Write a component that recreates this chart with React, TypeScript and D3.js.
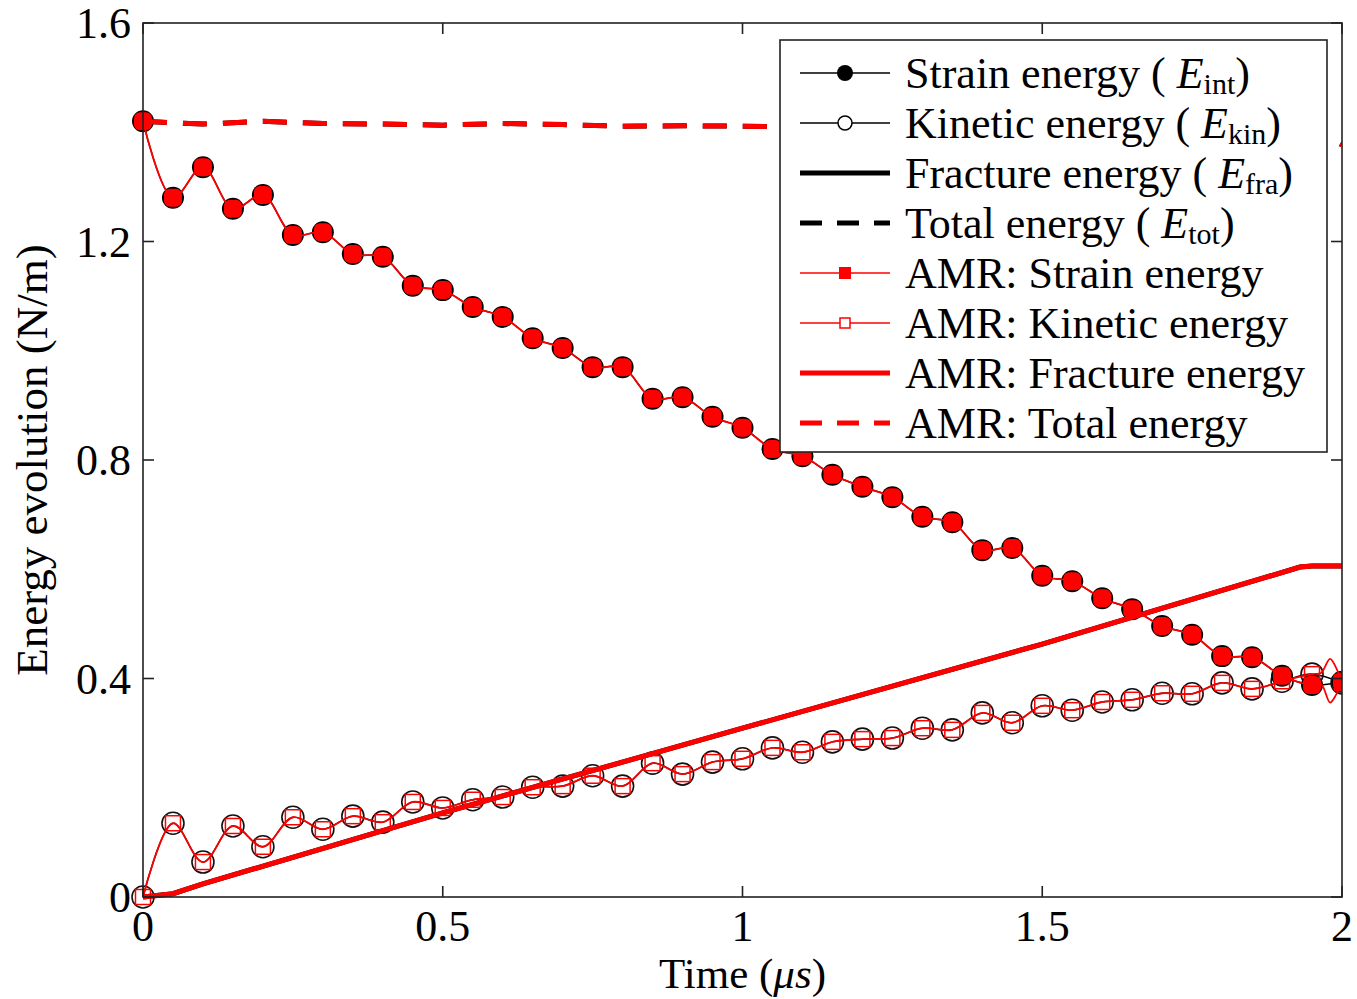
import React from 'react';
import * as d3 from 'd3';

// marker times (µs)
const time = [0, 0.05, 0.1, 0.15, 0.2, 0.25, 0.3, 0.35, 0.4, 0.45, 0.5, 0.55, 0.6, 0.65, 0.7, 0.75, 0.8, 0.85, 0.9, 0.95,
  1.0, 1.05, 1.1, 1.15, 1.2, 1.25, 1.3, 1.35, 1.4, 1.45, 1.5, 1.55, 1.6, 1.65, 1.7, 1.75, 1.8, 1.85, 1.9, 1.95, 2.0];

const strain = [1.42, 1.28, 1.336, 1.26, 1.285, 1.212, 1.217, 1.177, 1.172, 1.119, 1.111, 1.08, 1.062, 1.023, 1.005, 0.97, 0.97,
  0.912, 0.915, 0.879, 0.859, 0.82, 0.807, 0.773, 0.751, 0.732, 0.696, 0.686, 0.635, 0.639, 0.588, 0.578, 0.547, 0.527,
  0.496, 0.48, 0.441, 0.439, 0.405, 0.388, 0.394];

const kinetic = [0, 0.135, 0.064, 0.13, 0.092, 0.146, 0.124, 0.148, 0.137, 0.174, 0.163, 0.178, 0.183, 0.201, 0.203, 0.222,
  0.203, 0.245, 0.225, 0.247, 0.253, 0.273, 0.265, 0.284, 0.289, 0.291, 0.309, 0.306, 0.337, 0.319, 0.35, 0.342, 0.357,
  0.361, 0.373, 0.372, 0.392, 0.381, 0.395, 0.408, 0.392];

// the AMR curves wobble in the last step
const tailTime = [1.965, 1.98, 1.99];
const strainTail = [0.39, 0.356, 0.37];
const kineticTail = [0.41, 0.436, 0.42];

const fracTime = [0, 0.05, 0.1, 0.5, 1.0, 1.5, 1.93, 1.95, 2.0];
const fracture = [0, 0.006, 0.024, 0.154, 0.309, 0.463, 0.604, 0.606, 0.606];

const totalTime = [0, 0.1, 0.2, 0.3, 0.4, 0.5, 0.6, 0.7, 0.8, 0.9, 1.0, 1.1, 1.2, 1.4, 1.6, 1.8, 1.9, 1.95, 1.975, 2.0];
const total = [1.42, 1.415, 1.42, 1.416, 1.415, 1.413, 1.416, 1.414, 1.411, 1.412, 1.411, 1.41, 1.41, 1.408, 1.406, 1.404,
  1.402, 1.4, 1.393, 1.377];

const xTicks = [0, 0.5, 1, 1.5, 2];
const yTicks = [0, 0.4, 0.8, 1.2, 1.6];

const W = 1357;
const H = 999;
const m = { left: 143, right: 15, top: 23, bottom: 102 };
const font = '"Liberation Serif", "DejaVu Serif", serif';

type Pt = [number, number];
const zip = (xs: number[], ys: number[]): Pt[] => xs.map((x, i) => [x, ys[i]]);

const App = () => {
  const x = d3.scaleLinear().domain([0, 2]).range([m.left, W - m.right]);
  const y = d3.scaleLinear().domain([0, 1.6]).range([H - m.bottom, m.top]);

  const smooth = d3.line<Pt>().x(d => x(d[0])).y(d => y(d[1])).curve(d3.curveCatmullRom.alpha(0.5));
  const straight = d3.line<Pt>().x(d => x(d[0])).y(d => y(d[1]));

  const strainPts = zip(time, strain);
  const kineticPts = zip(time, kinetic);
  const strainAmr = [...strainPts.slice(0, -1), ...zip(tailTime, strainTail), strainPts[strainPts.length - 1]];
  const kineticAmr = [...kineticPts.slice(0, -1), ...zip(tailTime, kineticTail), kineticPts[kineticPts.length - 1]];
  const fracPts = zip(fracTime, fracture);
  const totalPts = zip(totalTime, total);

  const x0 = m.left, x1 = W - m.right, y0 = H - m.bottom, y1 = m.top;
  const dash = '24,16';

  const legend = [
    { label: 'Strain energy', sub: 'int', kind: 'fillCircle' },
    { label: 'Kinetic energy', sub: 'kin', kind: 'openCircle' },
    { label: 'Fracture energy', sub: 'fra', kind: 'thick' },
    { label: 'Total energy', sub: 'tot', kind: 'dash' },
    { label: 'AMR: Strain energy', kind: 'fillSquare' },
    { label: 'AMR: Kinetic energy', kind: 'openSquare' },
    { label: 'AMR: Fracture energy', kind: 'thickRed' },
    { label: 'AMR: Total energy', kind: 'dashRed' },
  ];

  return (
    <div style={{ position: 'absolute', left: 0, top: 0 }}>
      <svg width={W} height={H} style={{ display: 'block', background: '#fff' }} fontFamily={font}>
        <defs>
          <clipPath id="plot">
            <rect x={x0 - 14} y={y1} width={x1 - x0 + 14} height={y0 - y1 + 14} />
          </clipPath>
        </defs>

        <g clipPath="url(#plot)">
          {/* reference (black) */}
          <path d={straight(fracPts) || ''} fill="none" stroke="#000" strokeWidth={5} />
          <path d={straight(totalPts) || ''} fill="none" stroke="#000" strokeWidth={5} strokeDasharray={dash} />
          <path d={smooth(strainPts) || ''} fill="none" stroke="#000" strokeWidth={1.5} />
          <path d={smooth(kineticPts) || ''} fill="none" stroke="#000" strokeWidth={1.5} />
          {strainPts.map((d, i) => (
            <circle key={'s' + i} cx={x(d[0])} cy={y(d[1])} r={11} fill="#000" />
          ))}
          {kineticPts.map((d, i) => (
            <circle key={'k' + i} cx={x(d[0])} cy={y(d[1])} r={11} fill="none" stroke="#111" strokeWidth={1.6} />
          ))}

          {/* AMR (red) */}
          <path d={straight(fracPts) || ''} fill="none" stroke="#f00" strokeWidth={5} />
          <path d={straight(totalPts) || ''} fill="none" stroke="#f00" strokeWidth={5} strokeDasharray={dash} />
          <path d={smooth(strainAmr) || ''} fill="none" stroke="#f00" strokeWidth={1.8} />
          <path d={smooth(kineticAmr) || ''} fill="none" stroke="#f00" strokeWidth={1.8} />
          {strainPts.map((d, i) => (
            <rect key={'rs' + i} x={x(d[0]) - 9} y={y(d[1]) - 9} width={18} height={18} rx={6} fill="#f00" />
          ))}
          {kineticPts.map((d, i) => (
            <rect key={'rk' + i} x={x(d[0]) - 7.5} y={y(d[1]) - 7.5} width={15} height={15} fill="none" stroke="#f00" strokeWidth={1.5} />
          ))}
        </g>

        {/* axes box */}
        <rect x={x0} y={y1} width={x1 - x0} height={y0 - y1} fill="none" stroke="#222" strokeWidth={1.6} />
        {xTicks.map(t => (
          <g key={'xt' + t}>
            <line x1={x(t)} x2={x(t)} y1={y0} y2={y0 - 11} stroke="#222" strokeWidth={1.6} />
            <line x1={x(t)} x2={x(t)} y1={y1} y2={y1 + 11} stroke="#222" strokeWidth={1.6} />
            <text x={x(t)} y={y0 + 44} textAnchor="middle" fontSize={44}>{t}</text>
          </g>
        ))}
        {yTicks.map(t => (
          <g key={'yt' + t}>
            <line x1={x0} x2={x0 + 11} y1={y(t)} y2={y(t)} stroke="#222" strokeWidth={1.6} />
            <line x1={x1} x2={x1 - 11} y1={y(t)} y2={y(t)} stroke="#222" strokeWidth={1.6} />
            <text x={x0 - 12} y={y(t) + 15} textAnchor="end" fontSize={44}>{t === 0 ? '0' : t.toFixed(1)}</text>
          </g>
        ))}

        <text x={(x0 + x1) / 2} y={988} textAnchor="middle" fontSize={43}>
          Time (<tspan fontStyle="italic">μs</tspan>)
        </text>
        <text transform={`translate(47, ${(y0 + y1) / 2}) rotate(-90)`} textAnchor="middle" fontSize={45}>
          Energy evolution (N/m)
        </text>

        {/* legend */}
        <rect x={780} y={40} width={547} height={412} fill="#fff" stroke="#222" strokeWidth={1.6} />
        {legend.map((l, i) => {
          const cy = 73 + i * 50;
          const red = l.kind === 'fillSquare' || l.kind === 'openSquare' || l.kind === 'thickRed' || l.kind === 'dashRed';
          const c = red ? '#f00' : '#000';
          const thick = l.kind === 'thick' || l.kind === 'thickRed' || l.kind === 'dash' || l.kind === 'dashRed';
          return (
            <g key={l.label}>
              <line x1={800} x2={890} y1={cy} y2={cy} stroke={c}
                strokeWidth={thick ? 5 : 1.5}
                strokeDasharray={l.kind === 'dash' || l.kind === 'dashRed' ? '22,15' : undefined} />
              {l.kind === 'fillCircle' && <circle cx={845} cy={cy} r={8} fill="#000" />}
              {l.kind === 'openCircle' && <circle cx={845} cy={cy} r={7} fill="#fff" stroke="#000" strokeWidth={1.5} />}
              {l.kind === 'fillSquare' && <rect x={839} y={cy - 6} width={12} height={12} fill="#f00" />}
              {l.kind === 'openSquare' && <rect x={840} y={cy - 5} width={10} height={10} fill="#fff" stroke="#f00" strokeWidth={1.5} />}
              <text x={905} y={cy + 15} fontSize={44}>
                {l.label}
                {l.sub && (
                  <>
                    {' ( '}
                    <tspan fontStyle="italic">E</tspan>
                    <tspan fontSize={30} dy={6}>{l.sub}</tspan>
                    <tspan dy={-6}>)</tspan>
                  </>
                )}
              </text>
            </g>
          );
        })}
      </svg>
    </div>
  );
};

export default App;
